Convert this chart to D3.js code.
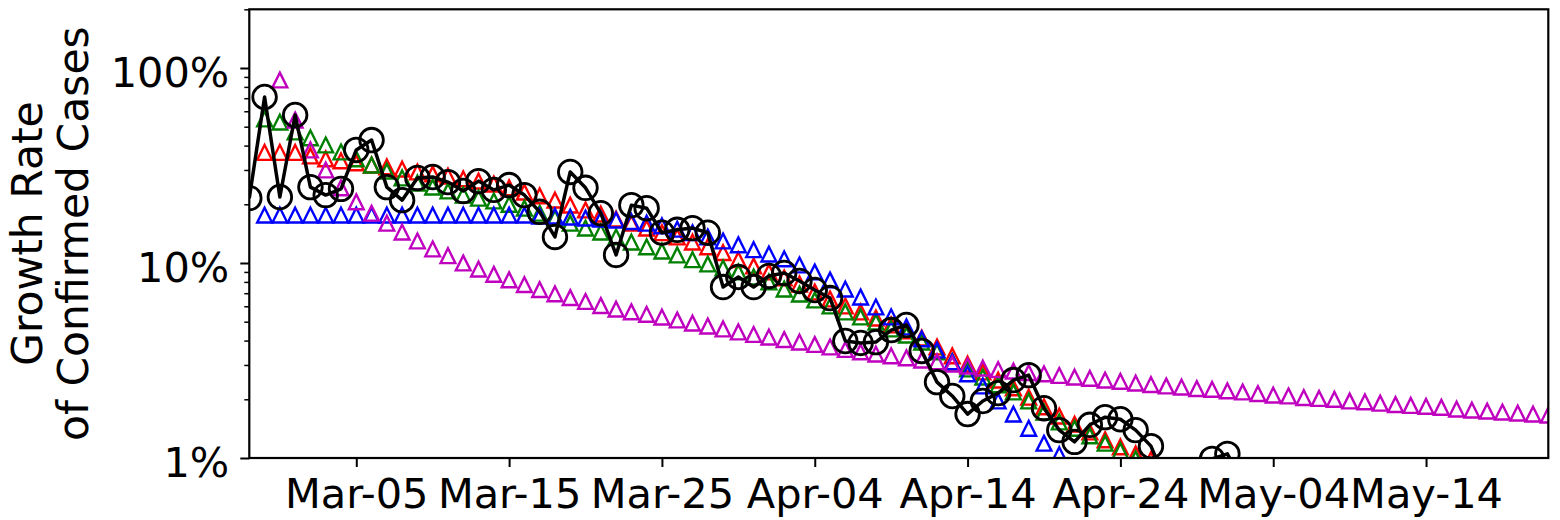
<!DOCTYPE html>
<html>
<head>
<meta charset="utf-8">
<script src="https://cdn.jsdelivr.net/npm/d3@7"></script>
<style>
  html, body { margin: 0; padding: 0; background: #fff; }
  svg { display: block; font-family: "DejaVu Sans", sans-serif; }
</style>
</head>
<body>
<svg id="chart" width="1560" height="520"></svg>
<script>
// Daily growth rate of confirmed cases (percent), observed and model curves.
const observedStart = "2020-02-27";
const observed = [
  21.5, 71.0, 21.8, 57.4, 24.5, 22.3, 24.0, 38.0, 42.7, 24.5,
  21.0, 27.3, 27.6, 26.0, 23.4, 26.3, 23.7, 25.1, 22.3, 18.3,
  13.6, 29.3, 24.3, 18.0, 11.0, 19.8, 19.1, 14.3, 14.8, 15.1,
  14.3, 7.53, 8.48, 7.53, 8.58, 8.89, 8.09, 7.27, 6.61, 3.98,
  3.89, 3.93, 4.53, 4.81, 3.54, 2.45, 2.08, 1.68, 1.96, 2.15,
  2.51, 2.66, 1.80, 1.39, 1.21, 1.48, 1.62, 1.58, 1.39, 1.15,
  0.75, 0.60, 0.70, 0.99, 1.05, 0.75
];

const modelStart = "2020-02-28";
const modelRed = [
  36.9, 36.9, 36.9, 35.4, 34.2, 33.4, 32.6, 31.8, 31.1, 30.3,
  29.3, 28.6, 27.9, 27.0, 26.3, 25.4, 24.3, 23.1, 22.1, 21.0,
  19.8, 18.7, 17.8, 16.8, 16.0, 15.1, 14.3, 13.6, 12.8, 12.1,
  11.3, 10.4, 9.65, 8.99, 8.38, 7.80, 7.10, 6.54, 6.02, 5.61,
  5.22, 4.81, 4.48, 4.12, 3.71, 3.34, 3.03, 2.76, 2.51, 2.29,
  2.05, 1.83, 1.64, 1.49, 1.36, 1.24, 1.14, 1.05, 0.98
];
const modelGreen = [
  54.8, 52.8, 47.0, 43.8, 40.3, 37.1, 34.2, 31.8, 29.6, 27.3,
  25.7, 24.5, 23.4, 22.3, 21.5, 20.8, 20.0, 19.1, 18.0, 17.0,
  16.0, 15.1, 14.4, 13.6, 12.8, 12.1, 11.5, 11.0, 10.4, 9.88,
  9.43, 8.99, 8.48, 7.99, 7.35, 6.93, 6.46, 6.02, 5.61, 5.29,
  4.98, 4.59, 4.27, 3.93, 3.50, 3.11, 2.86, 2.60, 2.37, 2.18,
  1.96, 1.72, 1.53, 1.42, 1.30, 1.19, 1.09, 0.99
];
const modelBlue = [
  17.6, 17.6, 17.6, 17.6, 17.6, 17.6, 17.6, 17.6, 17.6, 17.6,
  17.6, 17.6, 17.6, 17.6, 17.6, 17.6, 17.6, 17.6, 17.4, 17.4,
  17.2, 17.0, 16.8, 16.6, 16.3, 16.0, 15.5, 14.9, 14.3, 13.6,
  12.97, 12.4, 11.7, 11.1, 10.5, 9.77, 8.99, 8.18, 7.35, 6.69,
  5.95, 5.29, 4.70, 4.08, 3.58, 3.11, 2.70, 2.34, 1.96, 1.68,
  1.42, 1.19, 1.04, 0.87
];

const trendStart = "2020-02-29";
const trendPurple = [
  86.8, 54.1, 38.0, 30.0, 24.3, 20.6, 18.0, 16.0, 14.4, 12.97,
  11.8, 10.9, 10.0, 9.30, 8.75, 8.20, 7.75, 7.30, 6.95, 6.65,
  6.35, 6.05, 5.80, 5.62, 5.45, 5.28, 5.10, 4.92, 4.75, 4.59,
  4.43, 4.30, 4.17, 4.05, 3.93, 3.82, 3.71, 3.60, 3.50, 3.41,
  3.34, 3.26, 3.18, 3.11, 3.03, 2.96, 2.89, 2.84, 2.79, 2.74,
  2.70, 2.65, 2.60, 2.56, 2.51, 2.47, 2.42, 2.38, 2.34, 2.31,
  2.27, 2.25, 2.21, 2.18, 2.14, 2.10, 2.08, 2.04, 2.02, 2.00,
  1.96, 1.94, 1.91, 1.88, 1.86, 1.84, 1.82, 1.78, 1.76, 1.74,
  1.72, 1.70, 1.68, 1.66
];

const xDomain = ["2020-02-27", "2020-05-22"];
const xTickDates = ["2020-03-05", "2020-03-15", "2020-03-25", "2020-04-04",
                    "2020-04-14", "2020-04-24", "2020-05-04", "2020-05-14"];
const yDomain = [1, 200];
const yMajorTicks = [1, 10, 100];
const yMajorLabels = ["1%", "10%", "100%"];
const yMinorTicks = [2, 3, 4, 5, 6, 7, 8, 9, 20, 30, 40, 50, 60, 70, 80, 90, 200];
const yTitle = ["Growth Rate", "of Confirmed Cases"];

const svg = d3.select("#chart");
const plot = { left: 249.3, right: 1548.3, top: 9.3, bottom: 458 };

const parse = d3.utcParse("%Y-%m-%d");
const x = d3.scaleUtc()
  .domain(xDomain.map(parse))
  .range([plot.left, plot.right]);
const y = d3.scaleLog()
  .domain(yDomain)
  .range([plot.bottom, plot.top]);

const toPoints = (start, values) => {
  const t0 = parse(start);
  return values.map((v, i) => ({ date: d3.utcDay.offset(t0, i), v }));
};

svg.append("defs").append("clipPath").attr("id", "plot-clip")
  .append("rect")
  .attr("x", plot.left).attr("y", plot.top)
  .attr("width", plot.right - plot.left)
  .attr("height", plot.bottom - plot.top);

const layer = svg.append("g").attr("clip-path", "url(#plot-clip)");

// hollow upward triangles
const triHalf = 7.4;
const triPath = (cx, cy) =>
  `M${cx},${cy - triHalf}L${cx + triHalf},${cy + triHalf}L${cx - triHalf},${cy + triHalf}Z`;

const triSeries = [
  { start: modelStart, values: modelRed, color: "#ff0000" },
  { start: modelStart, values: modelGreen, color: "#008000" },
  { start: modelStart, values: modelBlue, color: "#0000ff" },
  { start: trendStart, values: trendPurple, color: "#bf00bf" }
];

triSeries.forEach(s => {
  layer.append("g")
    .selectAll("path")
    .data(toPoints(s.start, s.values))
    .join("path")
    .attr("d", d => triPath(x(d.date), y(d.v)))
    .attr("fill", "none")
    .attr("stroke", s.color)
    .attr("stroke-width", 2.4)
    .attr("stroke-linejoin", "miter");
});

// observed series: line with hollow circles
const obsPts = toPoints(observedStart, observed);
layer.append("path")
  .datum(obsPts)
  .attr("d", d3.line().x(d => x(d.date)).y(d => y(d.v)))
  .attr("fill", "none")
  .attr("stroke", "#000")
  .attr("stroke-width", 3.5)
  .attr("stroke-linejoin", "round");

layer.append("g")
  .selectAll("circle")
  .data(obsPts)
  .join("circle")
  .attr("cx", d => x(d.date))
  .attr("cy", d => y(d.v))
  .attr("r", 11.8)
  .attr("fill", "none")
  .attr("stroke", "#000")
  .attr("stroke-width", 2.8);

// axes
const fontSize = 41.5;

const xAxis = svg.append("g")
  .attr("transform", `translate(0,${plot.bottom})`)
  .call(d3.axisBottom(x)
    .tickValues(xTickDates.map(parse))
    .tickFormat(d3.utcFormat("%b-%d"))
    .tickSize(9));
xAxis.select(".domain").remove();
xAxis.selectAll(".tick line").attr("stroke", "#000").attr("stroke-width", 2);
xAxis.selectAll(".tick text")
  .attr("y", 50).attr("dy", 0)
  .attr("fill", "#000")
  .style("font-size", fontSize + "px")
  .style("font-family", "'DejaVu Sans', sans-serif");

const yAxis = svg.append("g")
  .attr("transform", `translate(${plot.left},0)`)
  .call(d3.axisLeft(y)
    .tickValues(yMajorTicks)
    .tickFormat((d, i) => yMajorLabels[i])
    .tickSize(9));
yAxis.select(".domain").remove();
yAxis.selectAll(".tick line").attr("stroke", "#000").attr("stroke-width", 2);
yAxis.selectAll(".tick text")
  .attr("x", -20).attr("dy", 0).attr("y", 18)
  .attr("fill", "#000")
  .style("font-size", fontSize + "px")
  .style("font-family", "'DejaVu Sans', sans-serif");

const yMinor = svg.append("g")
  .attr("transform", `translate(${plot.left},0)`)
  .call(d3.axisLeft(y).tickValues(yMinorTicks).tickFormat("").tickSize(5));
yMinor.select(".domain").remove();
yMinor.selectAll(".tick line").attr("stroke", "#000").attr("stroke-width", 1.5);

// frame
svg.append("rect")
  .attr("x", plot.left).attr("y", plot.top)
  .attr("width", plot.right - plot.left)
  .attr("height", plot.bottom - plot.top)
  .attr("fill", "none")
  .attr("stroke", "#000")
  .attr("stroke-width", 2.2);

// y axis title, two lines
const titleY = (plot.top + plot.bottom) / 2;
const titleX = [42, 88];
yTitle.forEach((t, i) => {
  svg.append("text")
    .attr("transform", `translate(${titleX[i]},${titleY}) rotate(-90)`)
    .attr("text-anchor", "middle")
    .attr("fill", "#000")
    .style("font-size", "42.5px")
    .text(t);
});
</script>
</body>
</html>
